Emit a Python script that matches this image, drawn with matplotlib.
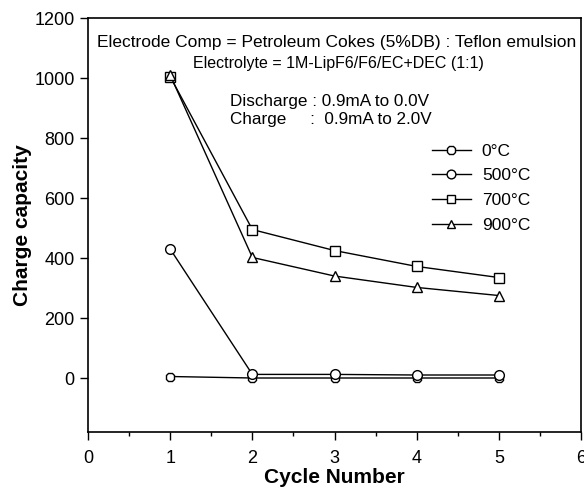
import matplotlib.pyplot as plt
import numpy as np

plt.rcParams['font.family'] = ['Liberation Sans', 'DejaVu Sans']

# ข้อมูลจากกราฟ
cycles = [1, 2, 3, 4, 5]
labels = ['0°C', '500°C', '700°C', '900°C']
cap_0 = [5, 0, 0, 0, 0]
cap_500 = [430, 12, 12, 10, 10]
cap_700 = [1005, 495, 425, 372, 335]
cap_900 = [1010, 402, 340, 302, 275]
markers = ['8', 'o', 's', '^']

fig = plt.figure(figsize=(5.84, 4.9), dpi=100)
ax = fig.add_axes([0.1507, 0.1184, 0.8443, 0.8446])

for vals, m, lab in zip([cap_0, cap_500, cap_700, cap_900], markers, labels):
    ax.plot(cycles, vals, color='black', lw=1, marker=m, markersize=7,
            markerfacecolor='white', markeredgecolor='black', markeredgewidth=1,
            label=lab)

ax.set_xlim(0, 6)
ax.set_ylim(-180, 1200)
ax.set_xticks(range(0, 7))
ax.set_xticks(np.arange(0.5, 6, 1), minor=True)
ax.set_yticks(range(0, 1201, 200))
ax.tick_params(axis='both', which='major', direction='out', length=6, width=1,
               labelsize=13)
ax.tick_params(axis='x', which='major', pad=7)
ax.tick_params(axis='x', which='minor', direction='out', length=3, width=1)
for s in ax.spines.values():
    s.set_linewidth(1.2)

ax.set_xlabel('Cycle Number', fontsize=15, fontweight='bold', labelpad=1)
ax.set_ylabel('Charge capacity', fontsize=15, fontweight='bold', labelpad=2)

ax.text(0.505, 0.94, 'Electrode Comp = Petroleum Cokes (5%DB) : Teflon emulsion',
        transform=ax.transAxes, ha='center', va='center', fontsize=12.5)
ax.text(0.507, 0.891, 'Electrolyte = 1M-LipF6/F6/EC+DEC (1:1)',
        transform=ax.transAxes, ha='center', va='center', fontsize=11.5)
ax.text(0.288, 0.776, 'Discharge : 0.9mA to 0.0V\nCharge     :  0.9mA to 2.0V',
        transform=ax.transAxes, ha='left', va='center', fontsize=12.3,
        linespacing=1.25)

ax.legend(loc='upper left', bbox_to_anchor=(0.665, 0.735), frameon=False,
          fontsize=12.5, handlelength=2.3, handletextpad=0.6, labelspacing=0.55,
          markerscale=0.9)

fig.savefig('out.png', dpi=100)
